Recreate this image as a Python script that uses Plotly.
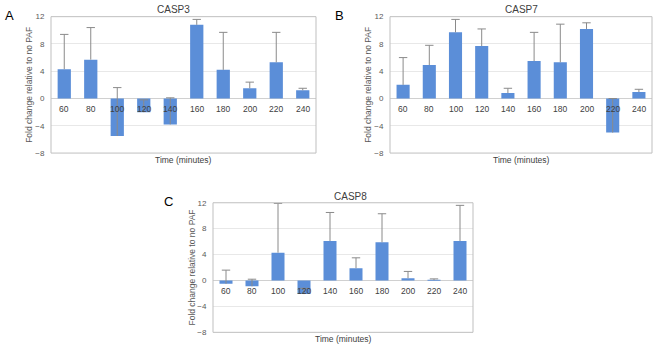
import plotly.graph_objects as go

categories = ["60", "80", "100", "120", "140", "160", "180", "200", "220", "240"]

casp3_values = [4.3, 5.7, -5.5, -2.0, -3.8, 10.8, 4.2, 1.5, 5.3, 1.2]
casp3_errors = [5.1, 4.7, 7.1, 1.8, 3.9, 0.8, 5.5, 0.9, 4.4, 0.3]

casp7_values = [2.0, 4.9, 9.7, 7.7, 0.8, 5.5, 5.3, 10.2, -5.0, 0.95]
casp7_errors = [4.0, 2.9, 1.9, 2.5, 0.7, 4.2, 5.6, 0.9, 5.0, 0.4]

casp8_values = [-0.5, -0.9, 4.3, -2.1, 6.1, 1.9, 5.9, 0.35, 0.05, 6.1]
casp8_errors = [2.1, 1.1, 7.6, 0.9, 4.4, 1.6, 4.4, 1.05, 0.2, 5.5]

y_ticks = [-8, -4, 0, 4, 8, 12]

W, H = 658, 350
BAR = "#5b8ed8"
ERR = "#8a8a8a"
TXT = "#595959"
FONT = "Liberation Sans, Arial, sans-serif"

panels = [
    ("CASP3", "A", casp3_values, casp3_errors, (51, 316, 13, 153), (173, 6), (9, 12), 29),
    ("CASP7", "B", casp7_values, casp7_errors, (390, 652, 13, 153), (521, 6), (339, 12), 368),
    ("CASP8", "C", casp8_values, casp8_errors, (213, 473, 204, 337), (350, 198), (168, 203), 192),
]

fig = go.Figure()
annotations = []
shapes = []

def px(x):
    return x / W

def py(y):
    return 1 - y / H

for i, (name, letter, vals, errs, box, tpos, lpos, ytx) in enumerate(panels):
    n = "" if i == 0 else str(i + 1)
    xa, ya = "x" + n, "y" + n
    fig.add_trace(go.Bar(x=categories, y=vals, marker=dict(color=BAR, line=dict(width=0)),
                         xaxis=xa, yaxis=ya, showlegend=False, hoverinfo="x+y"))
    ex, ey = [], []
    for c, v, e in zip(categories, vals, errs):
        ex += [c, c, None]
        ey += [v, v + e, None]
    fig.add_trace(go.Scatter(x=ex, y=ey, mode="lines", line=dict(color=ERR, width=1),
                             xaxis=xa, yaxis=ya, showlegend=False, hoverinfo="skip"))
    fig.add_trace(go.Scatter(x=categories, y=[v + e for v, e in zip(vals, errs)], mode="markers",
                             marker=dict(symbol="line-ew", size=6, line=dict(color=ERR, width=1)),
                             xaxis=xa, yaxis=ya, showlegend=False, hoverinfo="skip"))
    l, r, t, b = box
    fig.update_layout(**{
        "xaxis" + n: dict(domain=[px(l), px(r)], anchor=ya, type="category", range=[-0.5, 9.5],
                          showticklabels=False, showgrid=False, showline=False, zeroline=False),
        "yaxis" + n: dict(domain=[py(b), py(t)], anchor=xa, range=[-8, 12], tickvals=y_ticks,
                          showgrid=True, gridcolor="#e8e8e8", gridwidth=1, zeroline=True,
                          zerolinecolor="#d0d0d0", zerolinewidth=1, showline=False,
                          ticks="outside", ticklen=4, tickcolor="rgba(0,0,0,0)",
                          tickfont=dict(size=8, color=TXT, family=FONT)),
    })
    shapes.append(dict(type="rect", xref=xa + " domain", yref=ya + " domain", x0=0, x1=1, y0=0, y1=1,
                       line=dict(color="#bfbfbf", width=1), layer="above"))
    for j, c in enumerate(categories):
        annotations.append(dict(x=j, y=0, xref=xa, yref=ya, text=c, showarrow=False,
                                yanchor="top", yshift=-3,
                                font=dict(size=8.5, color="#404040", family=FONT)))
    annotations.append(dict(x=px(tpos[0]), y=py(tpos[1]), xref="paper", yref="paper", text=name,
                            showarrow=False, xanchor="center", yanchor="middle",
                            font=dict(size=10, color="#404040", family=FONT)))
    annotations.append(dict(x=px(lpos[0]), y=py(lpos[1]), xref="paper", yref="paper", text=letter,
                            showarrow=False, xanchor="center", yanchor="middle",
                            font=dict(size=13, color="#000000", family=FONT)))
    annotations.append(dict(x=px(ytx), y=py((t + b) / 2), xref="paper", yref="paper",
                            text="Fold change relative to no PAF", textangle=-90, showarrow=False,
                            xanchor="center", yanchor="middle",
                            font=dict(size=8.5, color=TXT, family=FONT)))
    annotations.append(dict(x=px((l + r) / 2), y=py(b + 7), xref="paper", yref="paper",
                            text="Time (minutes)", showarrow=False, xanchor="center", yanchor="middle",
                            font=dict(size=8.5, color="#404040", family=FONT)))

fig.update_layout(width=W, height=H, margin=dict(l=0, r=0, t=0, b=0),
                  paper_bgcolor="white", plot_bgcolor="white", bargap=0.5,
                  annotations=annotations, shapes=shapes, font=dict(family=FONT))

fig.write_html("out.html")
